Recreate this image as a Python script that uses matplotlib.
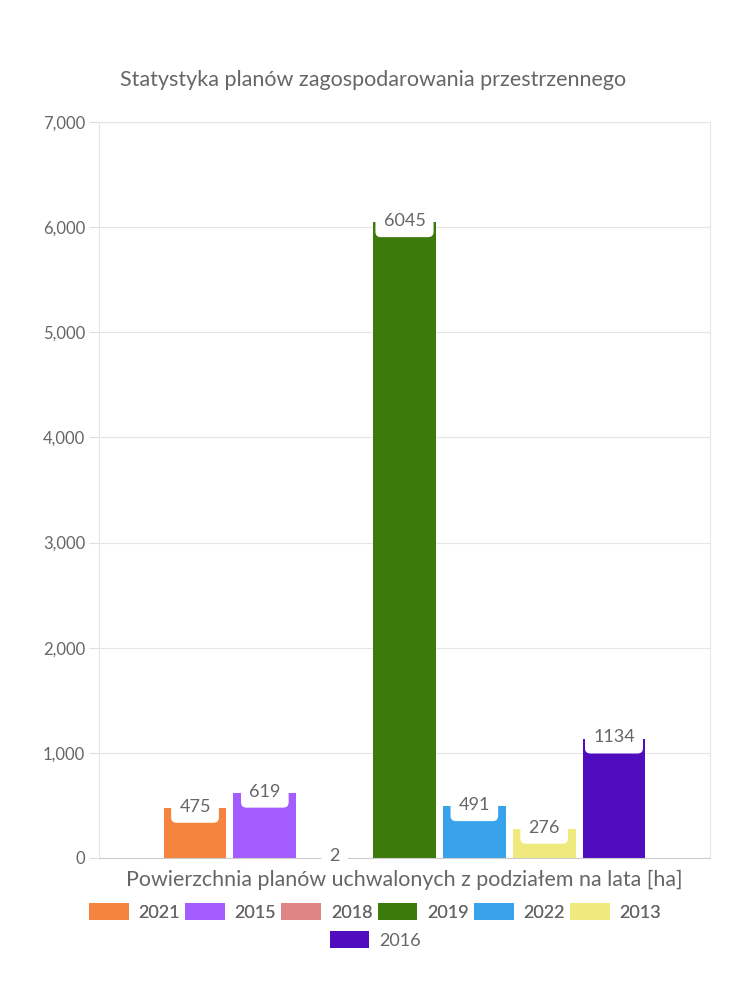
import matplotlib.pyplot as plt
from matplotlib.patches import Patch
from matplotlib.ticker import FuncFormatter

# Here I keep the chart data
years = ['2021', '2015', '2018', '2019', '2022', '2013', '2016']
areas = [475, 619, 2, 6045, 491, 276, 1134]
colors = ['#f5843f', '#a25cff', '#e08585', '#3d7a0c', '#38a3ea', '#f0ea7e', '#4f0dbf']

title = 'Statystyka planów zagospodarowania przestrzennego'
xlabel = 'Powierzchnia planów uchwalonych z podziałem na lata [ha]'

plt.rcParams['font.family'] = ['Lato', 'DejaVu Sans']
text_color = '#666666'

fig = plt.figure(figsize=(7.5, 10), dpi=100)
ax = fig.add_axes([99 / 750, 1 - 858 / 1000, 611 / 750, 736 / 1000])

positions = list(range(len(years)))
ax.bar(positions, areas, width=0.9, color=colors, zorder=2)

# Here I draw the value labels in white rounded boxes on top of the bars
for x, v in zip(positions, areas):
    ax.annotate(str(v), (x, v), xytext=(0, 1), textcoords='offset points',
                ha='center', va='center', fontsize=13, color=text_color, zorder=3,
                bbox=dict(boxstyle='round,pad=0.45,rounding_size=0.3',
                          facecolor='white', edgecolor='none'))

ax.set_xlim(-1.375, len(years) - 1 + 1.375)
ax.set_ylim(0, 7000)
ax.set_yticks(range(0, 7001, 1000))
ax.yaxis.set_major_formatter(FuncFormatter(lambda v, p: f'{int(v):,}'))
ax.set_xticks([])
ax.grid(axis='y', color='#e6e6e6', linewidth=0.8, zorder=0)
ax.tick_params(axis='y', length=7, color='#dddddd', labelsize=12, labelcolor=text_color, pad=3)
for side in ['left', 'right', 'top']:
    ax.spines[side].set_color('#e6e6e6')
ax.spines['bottom'].set_color('#cccccc')

fig.text(373 / 750, 1 - 80 / 1000, title, ha='center', va='center', fontsize=15.5, color=text_color)
fig.text(404 / 750, 1 - 880 / 1000, xlabel, ha='center', va='center', fontsize=15.4, color=text_color)

# Here I build the legend in two rows like the original
handles = [Patch(facecolor=c, label=y) for c, y in zip(colors, years)]
leg_opts = dict(frameon=False, fontsize=13, handlelength=2.2, handleheight=1.1,
                handletextpad=0.53, columnspacing=0.3, labelcolor=text_color)
leg1 = fig.legend(handles=handles[:6], loc='center', bbox_to_anchor=(375 / 750, 1 - 912 / 1000),
                  ncol=6, **leg_opts)
leg2 = fig.legend(handles=handles[6:], loc='center', bbox_to_anchor=(375 / 750, 1 - 940 / 1000),
                  ncol=1, **leg_opts)
fig.add_artist(leg1)

fig.savefig('out.png', dpi=100)
